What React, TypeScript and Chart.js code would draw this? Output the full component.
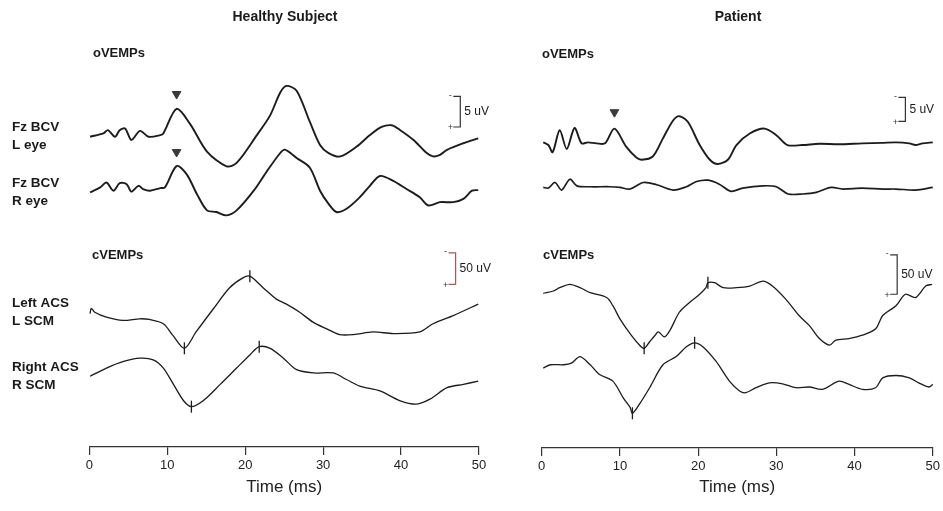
import React, { useEffect, useRef } from "react";
import { Chart, registerables } from "chart.js";
Chart.register(...registerables);

const FONT = '"Liberation Sans", Arial, Helvetica, sans-serif';

// ---------- Healthy subject (values in uV relative to each trace's baseline, time in ms) ----------
const hLEyeT = [0.1, 1.8, 2.4, 3.3, 3.9, 4.6, 5.4, 6.5, 7.6, 9.1, 9.5, 11.2, 12.9, 15.1, 17.6, 18.9, 21.5, 23.2, 24.5, 25.3, 26.6, 28.3, 29.6, 30.7, 32.2, 34.3, 36.0, 37.5, 38.8, 39.9, 41.6, 43.3, 44.1, 45.0, 45.9, 48.0, 49.9];
const hLEyeV = [0, 0.55, 1.08, 0, 1.08, 1.35, -0.53, 0.97, 0, 0.27, 0.55, 4.57, 2.16, -2.42, -4.83, -4.28, 0.27, 3.5, 7.25, 8.33, 7.52, 2.42, -1.34, -2.67, -3.22, -1.61, 0.27, 1.61, 1.88, 1.08, -0.53, -2.67, -3.22, -2.95, -2.14, -1.06, -0.26];
const hREyeT = [0.1, 1.4, 2.2, 3.1, 3.9, 4.8, 5.4, 6.3, 6.9, 7.8, 9.1, 9.7, 11.2, 12.5, 13.8, 15.1, 16.3, 17.6, 18.9, 21.1, 22.8, 24.5, 25.1, 26.6, 28.3, 29.6, 30.7, 31.7, 33.0, 34.7, 36.0, 37.3, 39.0, 40.7, 42.4, 43.5, 45.0, 46.7, 48.0, 49.1, 49.9];
const hREyeV = [0, 0.81, 1.61, 0.27, 1.5, 1.34, 0.11, 1.07, 0.54, 0.27, 0.7, 0.81, 4.29, 2.95, -0.27, -2.96, -3.22, -3.77, -2.96, 0.27, 3.48, 6.44, 6.98, 5.64, 4.03, 0.27, -1.88, -3.22, -2.69, -0.81, 1.07, 2.68, 1.87, 0.54, -0.81, -2.15, -1.61, -1.61, -1.07, 0.27, 0.37];
const hLAcsT = [0.1, 0.25, 0.7, 2.2, 4.3, 6.5, 7.7, 9.5, 10.7, 12.2, 13.7, 15.9, 18.0, 19.7, 20.6, 22.3, 24.0, 25.3, 27.0, 28.7, 30.4, 32.1, 33.9, 36.4, 39.0, 42.4, 44.1, 46.7, 49.9];
const hLAcsV = [-2, 6.3, 0, -7.8, -13.0, -10.4, -11.5, -18.3, -36.5, -57.4, -31.3, 5.2, 39.1, 54.8, 57.4, 39.1, 20.9, 13.0, 0, -15.7, -26.1, -35.5, -35.5, -31.3, -33.9, -31.3, -18.3, -5.2, 13.0];
const hRAcsT = [0.1, 2.2, 4.4, 6.5, 8.2, 9.5, 10.8, 12.1, 13.1, 14.6, 16.8, 18.9, 20.6, 21.8, 23.2, 24.9, 26.6, 28.8, 31.3, 33.0, 34.7, 37.3, 39.9, 42.0, 43.7, 45.9, 48.0, 49.9];
const hRAcsV = [0, 13.0, 23.5, 28.7, 26.1, 13.0, -13.0, -39.1, -48.5, -39.1, -13.0, 13.0, 33.9, 47.0, 44.3, 28.7, 10.4, 5.2, 5.2, -5.2, -15.7, -23.5, -39.1, -44.3, -36.5, -18.3, -13.0, -7.8];

// markers (healthy)
const hLEyeMarkT = [11.2];
const hLEyeMarkV = [7.0];
const hREyeMarkT = [11.2];
const hREyeMarkV = [6.6];
const hLAcsMarkT = [12.2, 20.6];
const hLAcsMarkV = [-57.4, 57.4];
const hRAcsMarkT = [13.1, 21.8];
const hRAcsMarkV = [-48.5, 47.0];

// ---------- Patient ----------
const pLEyeT = [0.2, 0.85, 1.4, 2.3, 3.2, 4.2, 5.1, 5.9, 7.0, 8.1, 9.3, 10.8, 12.1, 12.8, 14.2, 15.5, 16.8, 17.6, 18.7, 20.2, 21.5, 22.5, 23.8, 24.9, 26.6, 28.5, 30.0, 31.4, 33.3, 35.5, 38.0, 41.0, 43.5, 45.3, 47.0, 47.8, 48.7, 50];
const pLEyeV = [0.21, -0.35, -1.85, 2.73, -1.17, 3.2, 0, 0.21, 0, 0, 3.08, -0.7, -2.96, -3.43, -2.75, 1.03, 4.78, 5.67, 4.44, -0.35, -3.43, -4.31, -3.43, -0.35, 2.05, 3.08, 1.7, -0.35, -0.35, -0.1, -0.2, 0, 0.1, 0.21, 0, -0.35, 0, 0.21];
const pREyeT = [0.2, 0.85, 1.7, 2.55, 3.6, 4.5, 6.2, 8.7, 10.0, 11.3, 13.0, 14.7, 16.8, 18.5, 19.8, 21.3, 22.7, 24.2, 25.7, 28.3, 30.0, 31.5, 33.4, 35.1, 37.0, 38.5, 41.0, 43.6, 45.3, 47.8, 50];
const pREyeV = [0, -0.14, 1.03, -0.55, 1.71, 0.33, 0.14, 0.14, 0, -0.34, 1.03, 0.55, -0.55, 0.14, 1.23, 1.51, 0.68, -0.82, -0.14, 0.33, 0.14, -1.37, -1.37, -1.03, 0, -0.34, -0.14, -0.34, -0.34, -0.55, 0];
const pLAcsT = [0.2, 1.5, 2.3, 3.6, 4.9, 6.2, 8.3, 9.1, 10.0, 11.3, 12.5, 13.1, 13.8, 14.5, 14.9, 15.7, 16.4, 17.6, 18.9, 20.2, 21.0, 21.25, 22.1, 23.2, 24.9, 26.6, 28.3, 29.5, 31.2, 32.9, 34.2, 35.5, 36.8, 37.6, 39.3, 41.0, 42.7, 43.6, 45.3, 46.5, 47.8, 49.1, 49.9];
const pLAcsV = [0, 2.9, 7.1, 11.3, 7.1, 0.8, -5.4, -15.8, -32.5, -51.3, -65.8, -70.0, -61.6, -53.3, -49.1, -55.4, -47.0, -24.1, -11.6, -1.2, 7.1, 13.4, 13.4, 7.1, 7.1, 9.2, 15.5, 9.2, -7.5, -28.3, -40.8, -57.5, -65.8, -59.5, -57.5, -53.3, -45.0, -28.3, -15.8, -1.2, -5.4, 9.2, 11.3];
const pRAcsT = [0.2, 1.1, 2.8, 3.8, 4.9, 6.2, 7.4, 9.1, 10.4, 11.3, 11.6, 12.5, 13.8, 15.5, 17.2, 18.5, 19.55, 20.6, 22.3, 24.0, 25.3, 26.1, 27.4, 29.1, 30.8, 32.5, 34.2, 35.9, 38.0, 39.3, 41.0, 42.7, 43.6, 45.3, 47.0, 48.2, 49.5, 50];
const pRAcsV = [0, 4.2, 4.2, 6.3, 14.6, 4.2, -8.3, -16.6, -37.5, -50.0, -57.5, -45.8, -25.0, 4.2, 14.6, 27.1, 32.1, 27.1, 8.4, -16.6, -29.1, -31.3, -25.0, -18.8, -20.0, -25.0, -24.1, -27.0, -16.6, -20.8, -27.0, -25.0, -12.5, -9.5, -12.5, -18.8, -24.1, -20.8];

// markers (patient)
const pLEyeMarkT = [9.3];
const pLEyeMarkV = [6.5];
const pLAcsMarkT = [13.1, 21.25];
const pLAcsMarkV = [-70.0, 13.4];
const pRAcsMarkT = [11.6, 19.55];
const pRAcsMarkV = [-57.5, 32.1];

// axis ticks / labels
const timeTicksStep = 10;
const timeMin = 0;
const timeMax = 50;
const xTitle = "Time (ms)";

const healthy = {
  title: "Healthy Subject",
  titleX: 285,
  left: 0,
  width: 505,
  padL: 89.3,
  padR: 26,
  xH: 64,
  yoMax: 72,
  ycMax: 700,
  rowLabels: true,
  sections: [
    { text: "oVEMPs", x: 93, y: 53 },
    { text: "cVEMPs", x: 92, y: 255 },
  ],
  bars: [
    { axis: "yo", t: 47.6, bottom: 52.4, size: 5, text: "5 uV", color: "#333" },
    { axis: "yc", t: 47.0, bottom: 258.9, size: 50, text: "50 uV", color: "#a35a5a" },
  ],
  traces: [
    { t: hLEyeT, v: hLEyeV, base: 50.8, axis: "yo", w: 1.9, label: ["Fz BCV", "L eye"], mt: hLEyeMarkT, mv: hLEyeMarkV, mark: "tri" },
    { t: hREyeT, v: hREyeV, base: 41.7, axis: "yo", w: 1.9, label: ["Fz BCV", "R eye"], mt: hREyeMarkT, mv: hREyeMarkV, mark: "tri" },
    { t: hLAcsT, v: hLAcsV, base: 214.5, axis: "yc", w: 1.3, label: ["Left ACS", "L SCM"], mt: hLAcsMarkT, mv: hLAcsMarkV, mark: "tick" },
    { t: hRAcsT, v: hRAcsV, base: 112.7, axis: "yc", w: 1.3, label: ["Right ACS", "R SCM"], mt: hRAcsMarkT, mv: hRAcsMarkV, mark: "tick" },
  ],
};

const patient = {
  title: "Patient",
  titleX: 233,
  left: 505,
  width: 438,
  padL: 36.7,
  padR: 9,
  xH: 63,
  yoMax: 92,
  ycMax: 560,
  rowLabels: false,
  sections: [
    { text: "oVEMPs", x: 37, y: 54 },
    { text: "cVEMPs", x: 38, y: 255 },
  ],
  bars: [
    { axis: "yo", t: 46.5, bottom: 68.2, size: 5, text: "5 uV", color: "#333" },
    { axis: "yc", t: 45.45, bottom: 195.4, size: 50, text: "50 uV", color: "#333" },
  ],
  traces: [
    { t: pLEyeT, v: pLEyeV, base: 63.6, axis: "yo", w: 1.9, label: null, mt: pLEyeMarkT, mv: pLEyeMarkV, mark: "tri" },
    { t: pREyeT, v: pREyeV, base: 54.4, axis: "yo", w: 1.7, label: null, mt: null, mv: null, mark: null },
    { t: pLAcsT, v: pLAcsV, base: 196.6, axis: "yc", w: 1.3, label: null, mt: pLAcsMarkT, mv: pLAcsMarkV, mark: "tick" },
    { t: pRAcsT, v: pRAcsV, base: 101.6, axis: "yc", w: 1.3, label: null, mt: pRAcsMarkT, mv: pRAcsMarkV, mark: "tick" },
  ],
};

const annotPlugin = {
  id: "annot",
  afterDraw(chart: any, _args: any, opts: any) {
    const cfg = opts.cfg;
    if (!cfg) return;
    const ctx = chart.ctx;
    const xs = chart.scales.x;
    ctx.save();
    ctx.fillStyle = "#1a1a1a";
    ctx.textBaseline = "middle";
    // title
    ctx.font = `bold 14px ${FONT}`;
    ctx.textAlign = "center";
    ctx.fillText(cfg.title, cfg.titleX, 17);
    // sections
    ctx.textAlign = "left";
    ctx.font = `bold 13px ${FONT}`;
    cfg.sections.forEach((s: any) => ctx.fillText(s.text, s.x, s.y));
    // row labels
    if (cfg.rowLabels) {
      ctx.font = `bold 13.5px ${FONT}`;
      cfg.traces.forEach((tr: any) => {
        if (!tr.label) return;
        const y = chart.scales[tr.axis].getPixelForValue(tr.base);
        ctx.fillText(tr.label[0], 12, y - 9);
        ctx.fillText(tr.label[1], 12, y + 9);
      });
    }
    // scale bars
    cfg.bars.forEach((b: any) => {
      const ys = chart.scales[b.axis];
      const x = xs.getPixelForValue(b.t);
      const yb = ys.getPixelForValue(b.bottom);
      const yt = ys.getPixelForValue(b.bottom + b.size);
      ctx.strokeStyle = b.color;
      ctx.lineWidth = 1.2;
      ctx.beginPath();
      ctx.moveTo(x - 7, yt);
      ctx.lineTo(x, yt);
      ctx.lineTo(x, yb);
      ctx.lineTo(x - 7, yb);
      ctx.stroke();
      ctx.fillStyle = "#333";
      ctx.font = `9px ${FONT}`;
      ctx.textAlign = "center";
      ctx.fillText("-", x - 10, yt - 1);
      ctx.fillText("+", x - 10, yb + 1);
      ctx.fillStyle = "#1a1a1a";
      ctx.textAlign = "left";
      ctx.font = `12px ${FONT}`;
      ctx.fillText(b.text, x + 4, (yt + yb) / 2);
    });
    ctx.restore();
  },
};

function Panel({ cfg }: { cfg: any }) {
  const ref = useRef<HTMLCanvasElement | null>(null);
  useEffect(() => {
    if (!ref.current) return;
    const datasets: any[] = [];
    cfg.traces.forEach((tr: any) => {
      datasets.push({
        data: tr.t.map((x: number, i: number) => ({ x, y: tr.v[i] + tr.base })),
        yAxisID: tr.axis,
        borderColor: "#1c1c1c",
        borderWidth: tr.w,
        pointRadius: 0,
        tension: 0.3,
        fill: false,
        clip: false,
      });
      if (tr.mt) {
        const tri = tr.mark === "tri";
        datasets.push({
          data: tr.mt.map((x: number, i: number) => ({ x, y: tr.mv[i] + tr.base })),
          yAxisID: tr.axis,
          showLine: false,
          pointStyle: tri ? "triangle" : "line",
          pointRotation: tri ? 180 : 90,
          pointRadius: tri ? 5 : 6,
          pointBackgroundColor: "#3a3a3a",
          pointBorderColor: tri ? "#3a3a3a" : "#1c1c1c",
          pointBorderWidth: tri ? 1 : 1.3,
          clip: false,
        });
      }
    });
    const chart = new Chart(ref.current, {
      type: "line",
      data: { datasets },
      plugins: [annotPlugin],
      options: {
        animation: false,
        responsive: false,
        maintainAspectRatio: false,
        layout: { padding: { left: cfg.padL, right: cfg.padR, top: 0, bottom: 0 } },
        plugins: {
          legend: { display: false },
          tooltip: { enabled: false },
          annot: { cfg },
        } as any,
        scales: {
          x: {
            type: "linear",
            min: timeMin,
            max: timeMax,
            ticks: { stepSize: timeTicksStep, color: "#222", font: { family: FONT, size: 13 }, padding: 3, maxRotation: 0 },
            grid: { display: true, drawOnChartArea: false, drawTicks: true, tickLength: 8, color: "#333", lineWidth: 1.2 },
            border: { display: true, color: "#333", width: 1.3 },
            title: { display: true, text: xTitle, color: "#222", font: { family: FONT, size: 17 }, padding: { top: 0, bottom: 13 } },
            afterFit: (s: any) => { s.height = cfg.xH; },
          },
          yo: { display: false, min: 0, max: cfg.yoMax },
          yc: { display: false, min: 0, max: cfg.ycMax },
        } as any,
      },
    });
    return () => chart.destroy();
  }, [cfg]);
  return (
    <canvas
      ref={ref}
      width={cfg.width}
      height={511}
      style={{ position: "absolute", left: cfg.left, top: 0, width: cfg.width, height: 511 }}
    />
  );
}

export default function App() {
  return (
    <div style={{ position: "absolute", left: 0, top: 0, width: 943, height: 511, background: "#ffffff", overflow: "hidden" }}>
      <Panel cfg={healthy} />
      <Panel cfg={patient} />
    </div>
  );
}
